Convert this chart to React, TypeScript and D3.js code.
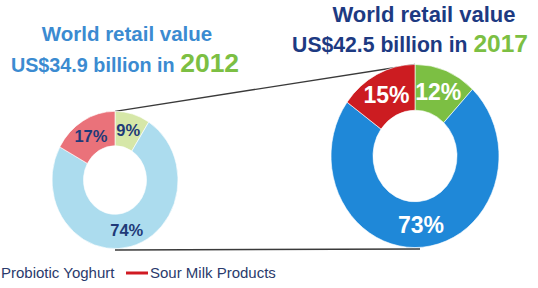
import React, { useEffect, useRef } from 'react';
import * as d3 from 'd3';

// segments go clockwise from 12 o'clock
const categories = ['Other', 'Probiotic Yoghurt', 'Sour Milk Products'];
const values2012 = [9, 74, 17];
const values2017 = [12, 73, 15];
const colors2012 = ['#d6e7a8', '#acdcee', '#ea727a'];
const colors2017 = ['#7cbf43', '#1f88d8', '#cc1c21'];
const legendItems = ['Probiotic Yoghurt', 'Sour Milk Products'];
const legendColors = ['#1f88d8', '#d01a22'];

const width = 538;
const height = 288;
const FONT = 'Liberation Sans, Arial, sans-serif';

export default function App() {
  const ref = useRef<SVGSVGElement>(null);

  useEffect(() => {
    document.body.style.margin = '0';
    const svg = d3.select(ref.current);
    svg.selectAll('*').remove();

    const pie = d3.pie<number>().sort(null).value(d => d);
    const yStretch = 1.09;

    const drawDonut = (vals, cols, cx, cy, r, labelColor, fontSize) => {
      const arcs = pie(vals);
      const arc = d3.arc<any>().innerRadius(r * 0.5).outerRadius(r);
      const g = svg.append('g').attr('transform', `translate(${cx},${cy}) scale(1,${yStretch})`);
      g.selectAll('path')
        .data(arcs)
        .enter()
        .append('path')
        .attr('d', arc)
        .attr('fill', (d, i) => cols[i])
        .attr('stroke', '#fff')
        .attr('stroke-width', 0.6);
      svg.append('g')
        .selectAll('text')
        .data(arcs)
        .enter()
        .append('text')
        .attr('x', d => cx + arc.centroid(d)[0])
        .attr('y', d => cy + arc.centroid(d)[1] * yStretch)
        .attr('dy', '0.36em')
        .attr('text-anchor', 'middle')
        .attr('font-family', FONT)
        .attr('font-weight', 'bold')
        .attr('font-size', fontSize)
        .attr('fill', labelColor)
        .text(d => `${d.data}%`);
    };

    const L = { cx: 115, cy: 180, r: 63 };
    const R = { cx: 415, cy: 156, r: 84 };

    // connector lines
    svg.append('line')
      .attr('x1', L.cx).attr('y1', L.cy - L.r * yStretch)
      .attr('x2', R.cx).attr('y2', R.cy - R.r * yStretch)
      .attr('stroke', '#3a3a3a').attr('stroke-width', 1.4);
    svg.append('line')
      .attr('x1', L.cx).attr('y1', 250)
      .attr('x2', R.cx + 5).attr('y2', 249)
      .attr('stroke', '#3a3a3a').attr('stroke-width', 1.6);

    drawDonut(values2012, colors2012, L.cx, L.cy, L.r, '#1f3a78', 16.5);
    drawDonut(values2017, colors2017, R.cx, R.cy, R.r, '#ffffff', 23);

    // titles
    const title = (x1, x2, y1, y2, color, s1, s2, amount, year, yearSize) => {
      svg.append('text')
        .attr('x', x1).attr('y', y1)
        .attr('text-anchor', 'middle')
        .attr('font-family', FONT).attr('font-weight', 'bold')
        .attr('font-size', s1).attr('fill', color)
        .text('World retail value');
      const t = svg.append('text')
        .attr('x', x2).attr('y', y2)
        .attr('text-anchor', 'middle')
        .attr('font-family', FONT).attr('font-weight', 'bold')
        .attr('fill', color);
      t.append('tspan').attr('font-size', s2).text(`US$${amount} billion in `);
      t.append('tspan').attr('font-size', yearSize).attr('fill', '#7cbf43').text(year);
    };
    title(127, 125, 41, 72, '#3b8bd1', 20.5, 19.8, '34.9', '2012', 26.5);
    title(424, 410, 22, 52, '#1d3a82', 22, 21.2, '42.5', '2017', 24.5);

    // legend (the first item's swatch sits off the left edge, as in the source)
    const lg = svg.append('g').attr('font-family', FONT).attr('font-size', 15).attr('fill', '#2a3a6c');
    lg.append('line').attr('x1', -30).attr('x2', -8).attr('y1', 273).attr('y2', 273)
      .attr('stroke', legendColors[0]).attr('stroke-width', 3);
    lg.append('text').attr('x', 1).attr('y', 278).text(legendItems[0]);
    lg.append('line').attr('x1', 126).attr('x2', 148).attr('y1', 273).attr('y2', 273)
      .attr('stroke', legendColors[1]).attr('stroke-width', 3);
    lg.append('text').attr('x', 150).attr('y', 278).text(legendItems[1]);
  }, []);

  return <svg ref={ref} width={width} height={height} style={{ display: 'block', background: '#fff' }} data-categories={categories.join(',')} />;
}
